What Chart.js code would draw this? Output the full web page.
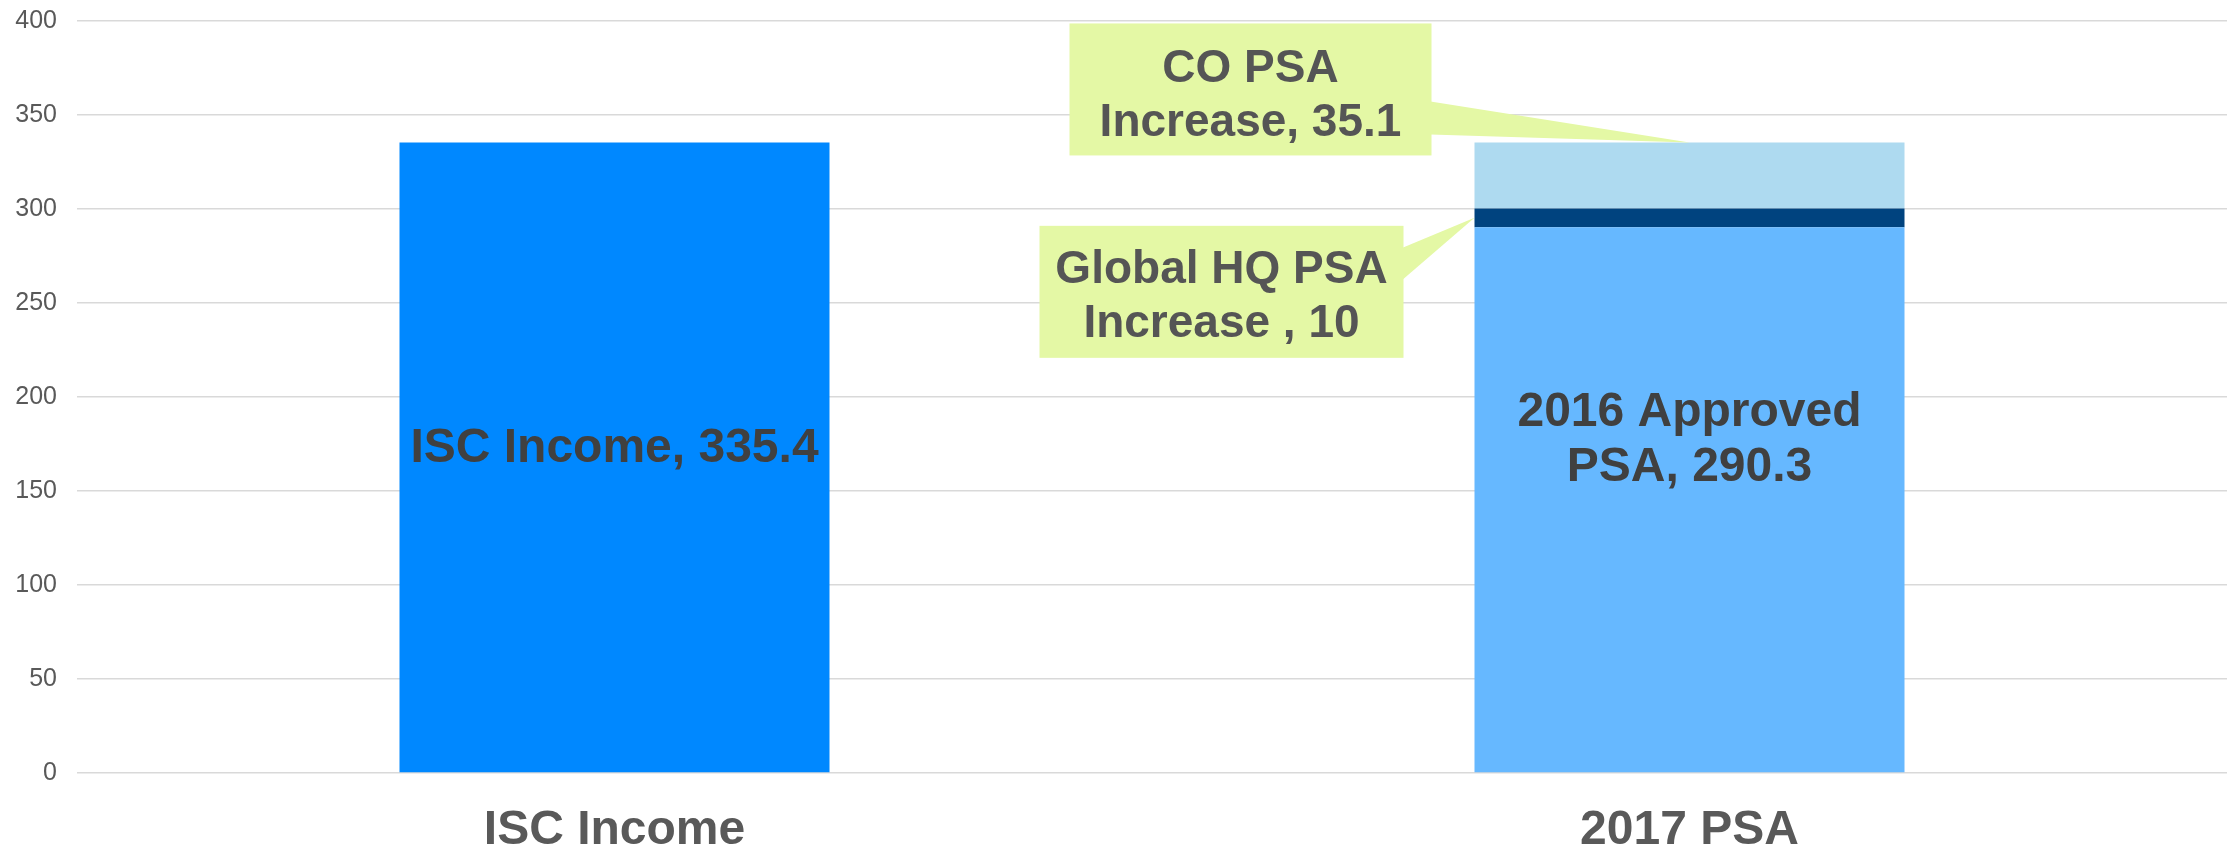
<!DOCTYPE html>
<html>
<head>
<meta charset="utf-8">
<script src="https://cdn.jsdelivr.net/npm/chart.js@4.4.1/dist/chart.umd.min.js"></script>
<style>
  body { margin: 0; background: #fff; }
</style>
</head>
<body>
<canvas id="chart" width="2229" height="851"></canvas>
<script>
const categories = ["ISC Income", "2017 PSA"];
const iscIncome = [335.4, null];
const approved2016 = [null, 290.3];
const globalHqIncrease = [null, 10];
const coPsaIncrease = [null, 35.1];
const yTicks = [0, 50, 100, 150, 200, 250, 300, 350, 400];

const FONT = "'Liberation Sans', Arial, sans-serif";

// value labels inside the bars
const innerLabels = [
  { ds: 0, idx: 0, lines: ["ISC Income, " + iscIncome[0]], dy: -9 },
  { ds: 1, idx: 1, lines: ["2016 Approved", "PSA, " + approved2016[1]], dy: -59 }
];

// callout boxes with a pointer to their segment
const callouts = [
  {
    ds: 3, idx: 1, anchor: "top",
    lines: ["CO PSA", "Increase, " + coPsaIncrease[1]],
    dx: -439, dy: -53, w: 362, h: 132, base: [12, 45], textDy: 7
  },
  {
    ds: 2, idx: 1, anchor: "left",
    lines: ["Global HQ PSA", "Increase , " + globalHqIncrease[1]],
    dx: -253, dy: 74, w: 364, h: 132, base: [-44, -12], textDy: 5
  }
];

const labelPlugin = {
  id: "barLabels",
  afterDatasetsDraw(chart) {
    const ctx = chart.ctx;
    ctx.save();
    ctx.textAlign = "center";
    ctx.textBaseline = "middle";

    ctx.font = "bold 48px " + FONT;
    innerLabels.forEach(l => {
      const el = chart.getDatasetMeta(l.ds).data[l.idx];
      const cy = (el.y + el.base) / 2 + l.dy;
      ctx.fillStyle = "#404040";
      l.lines.forEach((t, i) => {
        ctx.fillText(t, el.x, cy + (i - (l.lines.length - 1) / 2) * 55);
      });
    });

    ctx.font = "bold 46px " + FONT;
    callouts.forEach(c => {
      const el = chart.getDatasetMeta(c.ds).data[c.idx];
      let ax, ay;
      if (c.anchor === "top") {
        ax = el.x; ay = el.y;
      } else {
        ax = el.x - el.width / 2; ay = (el.y + el.base) / 2;
      }
      const cx = ax + c.dx, cy = ay + c.dy;
      const left = cx - c.w / 2, top = cy - c.h / 2, right = cx + c.w / 2;
      ctx.fillStyle = "#E4F8A5";
      ctx.fillRect(left, top, c.w, c.h);
      ctx.beginPath();
      ctx.moveTo(right - 1, cy + c.base[0]);
      ctx.lineTo(ax, ay);
      ctx.lineTo(right - 1, cy + c.base[1]);
      ctx.closePath();
      ctx.fill();
      ctx.fillStyle = "#555555";
      c.lines.forEach((t, i) => {
        ctx.fillText(t, cx, cy + c.textDy + (i - 0.5) * 54);
      });
    });
    ctx.restore();
  }
};

new Chart(document.getElementById("chart"), {
  type: "bar",
  data: {
    labels: categories,
    datasets: [
      { label: "ISC Income", data: iscIncome, backgroundColor: "#0088FF" },
      { label: "2016 Approved PSA", data: approved2016, backgroundColor: "#66B8FF" },
      { label: "Global HQ PSA Increase", data: globalHqIncrease, backgroundColor: "#00437F" },
      { label: "CO PSA Increase", data: coPsaIncrease, backgroundColor: "#AEDAF0" }
    ]
  },
  options: {
    responsive: false,
    animation: false,
    layout: { padding: { top: 21, right: 2, left: 0, bottom: 0 } },
    datasets: {
      bar: { categoryPercentage: 0.8, barPercentage: 0.5, skipNull: false }
    },
    plugins: {
      legend: { display: false },
      tooltip: { enabled: false }
    },
    scales: {
      x: {
        stacked: true,
        grid: { display: false, drawTicks: false },
        border: { display: false },
        ticks: {
          color: "#595959",
          font: { family: FONT, size: 48, weight: "bold" },
          padding: 29
        },
        afterFit(s) { s.height = 78; }
      },
      y: {
        stacked: true,
        min: 0,
        max: 400,
        afterBuildTicks(s) { s.ticks = yTicks.map(v => ({ value: v })); },
        grid: { color: "#D9D9D9", lineWidth: 1.5, drawTicks: false },
        border: { display: false },
        ticks: {
          color: "#595959",
          font: { family: FONT, size: 25 },
          padding: 20
        },
        afterFit(s) {
          s.width = 77;
          s.paddingTop = 0;
          s.paddingBottom = 0;
        }
      }
    }
  },
  plugins: [labelPlugin]
});
</script>
</body>
</html>
